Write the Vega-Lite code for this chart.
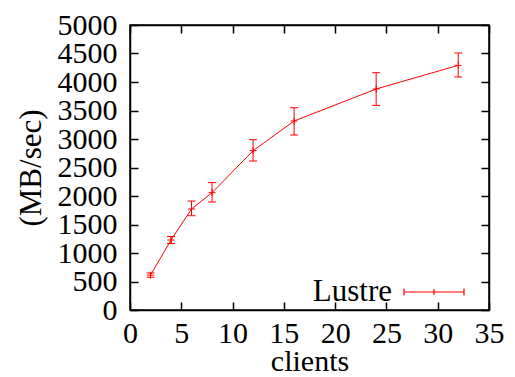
{
  "$schema": "https://vega.github.io/schema/vega-lite/v6.json",
  "autosize": "none",
  "width": 359,
  "height": 285,
  "padding": {"left": 130, "top": 25, "right": 26, "bottom": 67},
  "background": "white",
  "config": {
    "view": {"stroke": "black", "strokeWidth": 1.5},
    "font": "Liberation Serif",
    "axis": {
      "domainColor": "black",
      "domainWidth": 1.5,
      "gridColor": "transparent",
      "gridOpacity": 0,
      "tickColor": "black",
      "tickWidth": 1.5,
      "tickSize": -8,
      "labelOverlap": false,
      "labelFlush": false,
      "format": "d",
      "labelFont": "Liberation Serif",
      "labelFontSize": 30,
      "labelColor": "black",
      "titleFont": "Liberation Serif",
      "titleFontSize": 31,
      "titleFontWeight": "normal",
      "titleColor": "black"
    }
  },
  "data": {
    "values": [
      {"clients": 2, "mbps": 612, "lo": 575, "hi": 650, "series": "Lustre"},
      {"clients": 4, "mbps": 1228, "lo": 1165, "hi": 1290, "series": "Lustre"},
      {"clients": 6, "mbps": 1772, "lo": 1654, "hi": 1912, "series": "Lustre"},
      {"clients": 8, "mbps": 2058, "lo": 1895, "hi": 2235, "series": "Lustre"},
      {"clients": 12, "mbps": 2795, "lo": 2614, "hi": 2988, "series": "Lustre"},
      {"clients": 16, "mbps": 3316, "lo": 3070, "hi": 3549, "series": "Lustre"},
      {"clients": 24, "mbps": 3877, "lo": 3591, "hi": 4163, "series": "Lustre"},
      {"clients": 32, "mbps": 4292, "lo": 4088, "hi": 4509, "series": "Lustre"}
    ]
  },
  "layer": [
    {
      "mark": {"type": "line", "strokeWidth": 1, "color": "#ff0000"},
      "encoding": {
        "x": {"field": "clients", "type": "quantitative",
              "scale": {"domain": [0, 35], "nice": false, "zero": false},
              "axis": {"orient": "bottom", "values": [0,5,10,15,20,25,30,35], "title": "clients",
                       "tickSize": -8, "labelPadding": 16, "labelOverlap": false, "labelFlush": false,
                       "titleFontSize": 30, "titlePadding": -2}},
        "y": {"field": "mbps", "type": "quantitative",
              "scale": {"domain": [0, 5000], "nice": false},
              "axis": {"orient": "left", "values": [0,500,1000,1500,2000,2500,3000,3500,4000,4500,5000], "title": "(MB/sec)",
                       "tickSize": -8, "labelPadding": 21, "labelOverlap": false, "labelFlush": false,
                       "titlePadding": 10}},
        "color": {"field": "series", "type": "nominal",
                  "scale": {"domain": ["Lustre"], "range": ["#ff0000"]},
                  "legend": {
                    "title": null,
                    "orient": "none",
                    "legendX": 273,
                    "legendY": 236,
                    "padding": 0,
                    "symbolType": "M-1,-0.117V0.117M-1,0H1M1,-0.117V0.117M0,-0.1V0.1",
                    "symbolSize": 3600,
                    "symbolStrokeWidth": 1.2,
                    "symbolStrokeColor": "#ff0000",
                    "symbolFillColor": "transparent",
                    "labelFont": "Liberation Serif",
                    "labelFontSize": 31,
                    "labelColor": "black",
                    "labelAlign": "right",
                    "labelOffset": -73
                  }}
      }
    },
    {
      "mark": {"type": "rule", "color": "#ff0000", "strokeWidth": 1},
      "encoding": {
        "x": {"field": "clients", "type": "quantitative", "axis": null},
        "y": {"field": "lo", "type": "quantitative", "axis": null},
        "y2": {"field": "hi"}
      }
    },
    {
      "mark": {"type": "point", "shape": "M-1,0H1", "size": 64, "color": "#ff0000", "filled": false, "strokeWidth": 1, "opacity": 1},
      "encoding": {
        "x": {"field": "clients", "type": "quantitative", "axis": null},
        "y": {"field": "lo", "type": "quantitative", "axis": null}
      }
    },
    {
      "mark": {"type": "point", "shape": "M-1,0H1", "size": 64, "color": "#ff0000", "filled": false, "strokeWidth": 1, "opacity": 1},
      "encoding": {
        "x": {"field": "clients", "type": "quantitative", "axis": null},
        "y": {"field": "hi", "type": "quantitative", "axis": null}
      }
    },
    {
      "mark": {"type": "point", "shape": "M-1,0H1M0,-1V1", "size": 49, "color": "#ff0000", "filled": false, "strokeWidth": 1, "opacity": 1},
      "encoding": {
        "x": {"field": "clients", "type": "quantitative",
              "axis": {"orient": "top", "values": [0,5,10,15,20,25,30,35], "labels": false, "title": null, "tickSize": -8}},
        "y": {"field": "mbps", "type": "quantitative",
              "axis": {"orient": "right", "values": [0,500,1000,1500,2000,2500,3000,3500,4000,4500,5000], "labels": false, "title": null, "tickSize": -8}}
      }
    }
  ],
  "resolve": {"axis": {"x": "independent", "y": "independent"}}
}
